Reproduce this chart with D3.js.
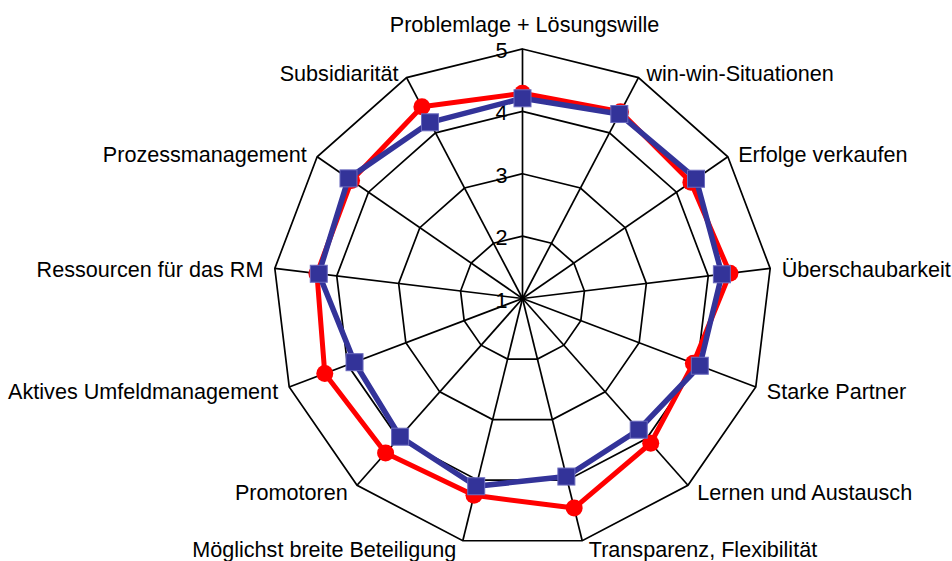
<!DOCTYPE html>
<html>
<head>
<meta charset="utf-8">
<script src="https://cdn.jsdelivr.net/npm/d3@7"></script>
<style>
  html, body { margin: 0; padding: 0; background: #fff; }
  svg { display: block; }
  text { font-family: "Liberation Sans", Arial, sans-serif; fill: #000; }
</style>
</head>
<body>
<svg id="chart" width="952" height="561"></svg>
<script>
const categories = [
  "Problemlage + Lösungswille",
  "win-win-Situationen",
  "Erfolge verkaufen",
  "Überschaubarkeit",
  "Starke Partner",
  "Lernen und Austausch",
  "Transparenz, Flexibilität",
  "Möglichst breite Beteiligung",
  "Promotoren",
  "Aktives Umfeldmanagement",
  "Ressourcen für das RM",
  "Prozessmanagement",
  "Subsidiarität"
];
const seriesRed  = [4.29, 4.38, 4.28, 4.35, 3.93, 4.10, 4.46, 4.25, 4.31, 4.39, 4.32, 4.33, 4.47];
const seriesBlue = [4.21, 4.34, 4.38, 4.22, 4.04, 3.81, 3.94, 4.10, 3.96, 3.88, 4.29, 4.39, 4.19];
const tickValues = [1, 2, 3, 4, 5];
const tickLabels = ["1", "2", "3", "4", "5"];

const svg = d3.select("#chart");
const cx = 522.5, cy = 298.5, R = 249.5;
const n = categories.length;
const r = d3.scaleLinear().domain([1, 5]).range([0, R]);
const angle = d3.scaleLinear().domain([0, n]).range([0, 2 * Math.PI]);
const fs = 21.6;

const g = svg.append("g").attr("transform", `translate(${cx},${cy})`);

const pt = (i, v) => [Math.sin(angle(i)) * r(v), -Math.cos(angle(i)) * r(v)];

// grid polygons
const gridLine = d3.line();
tickValues.filter(v => v > 1).forEach(v => {
  const pts = d3.range(n).map(i => pt(i, v));
  g.append("path")
    .attr("d", gridLine(pts) + "Z")
    .attr("fill", "none")
    .attr("stroke", "#000")
    .attr("stroke-width", 1.7);
});
// spokes
d3.range(n).forEach(i => {
  const p = pt(i, 5);
  g.append("line")
    .attr("x1", 0).attr("y1", 0)
    .attr("x2", p[0]).attr("y2", p[1])
    .attr("stroke", "#000").attr("stroke-width", 1.7);
});

// tick labels
g.selectAll("text.tick").data(tickValues).enter().append("text")
  .attr("class", "tick")
  .attr("x", -15)
  .attr("y", v => -r(v) + 9)
  .attr("text-anchor", "end")
  .attr("font-size", fs)
  .text((v, i) => tickLabels[i]);

// category labels
categories.forEach((c, i) => {
  const a = angle(i);
  const s = Math.sin(a), co = Math.cos(a);
  const p = pt(i, 5);
  let x, y, anchor;
  if (Math.abs(s) < 0.01) {
    x = p[0] + 2; y = p[1] - 17; anchor = "middle";
  } else {
    const off = 5 + 6.5 * Math.abs(s);
    x = p[0] + (s > 0 ? off : -off);
    y = p[1] + 9.5 - 7 * co;
    anchor = s > 0 ? "start" : "end";
  }
  g.append("text")
    .attr("x", x).attr("y", y)
    .attr("text-anchor", anchor)
    .attr("font-size", fs)
    .text(c);
});

const radial = d3.lineRadial()
  .angle((d, i) => angle(i))
  .radius(d => r(d))
  .curve(d3.curveLinearClosed);

// red series
g.append("path")
  .attr("d", radial(seriesRed))
  .attr("fill", "none")
  .attr("stroke", "#ff0000")
  .attr("stroke-width", 5)
  .attr("stroke-linejoin", "round");
g.selectAll("circle.red").data(seriesRed).enter().append("circle")
  .attr("class", "red")
  .attr("cx", (d, i) => pt(i, d)[0])
  .attr("cy", (d, i) => pt(i, d)[1])
  .attr("r", 8.5)
  .attr("fill", "#ff0000");

// blue series
g.append("path")
  .attr("d", radial(seriesBlue))
  .attr("fill", "none")
  .attr("stroke", "#333399")
  .attr("stroke-width", 5.5)
  .attr("stroke-linejoin", "round");
const sq = 17;
g.selectAll("rect.blue").data(seriesBlue).enter().append("rect")
  .attr("class", "blue")
  .attr("x", (d, i) => pt(i, d)[0] - sq / 2)
  .attr("y", (d, i) => pt(i, d)[1] - sq / 2)
  .attr("width", sq).attr("height", sq)
  .attr("fill", "#333399")
  .attr("stroke", "#6b6bbf")
  .attr("stroke-width", 1);
</script>
</body>
</html>
